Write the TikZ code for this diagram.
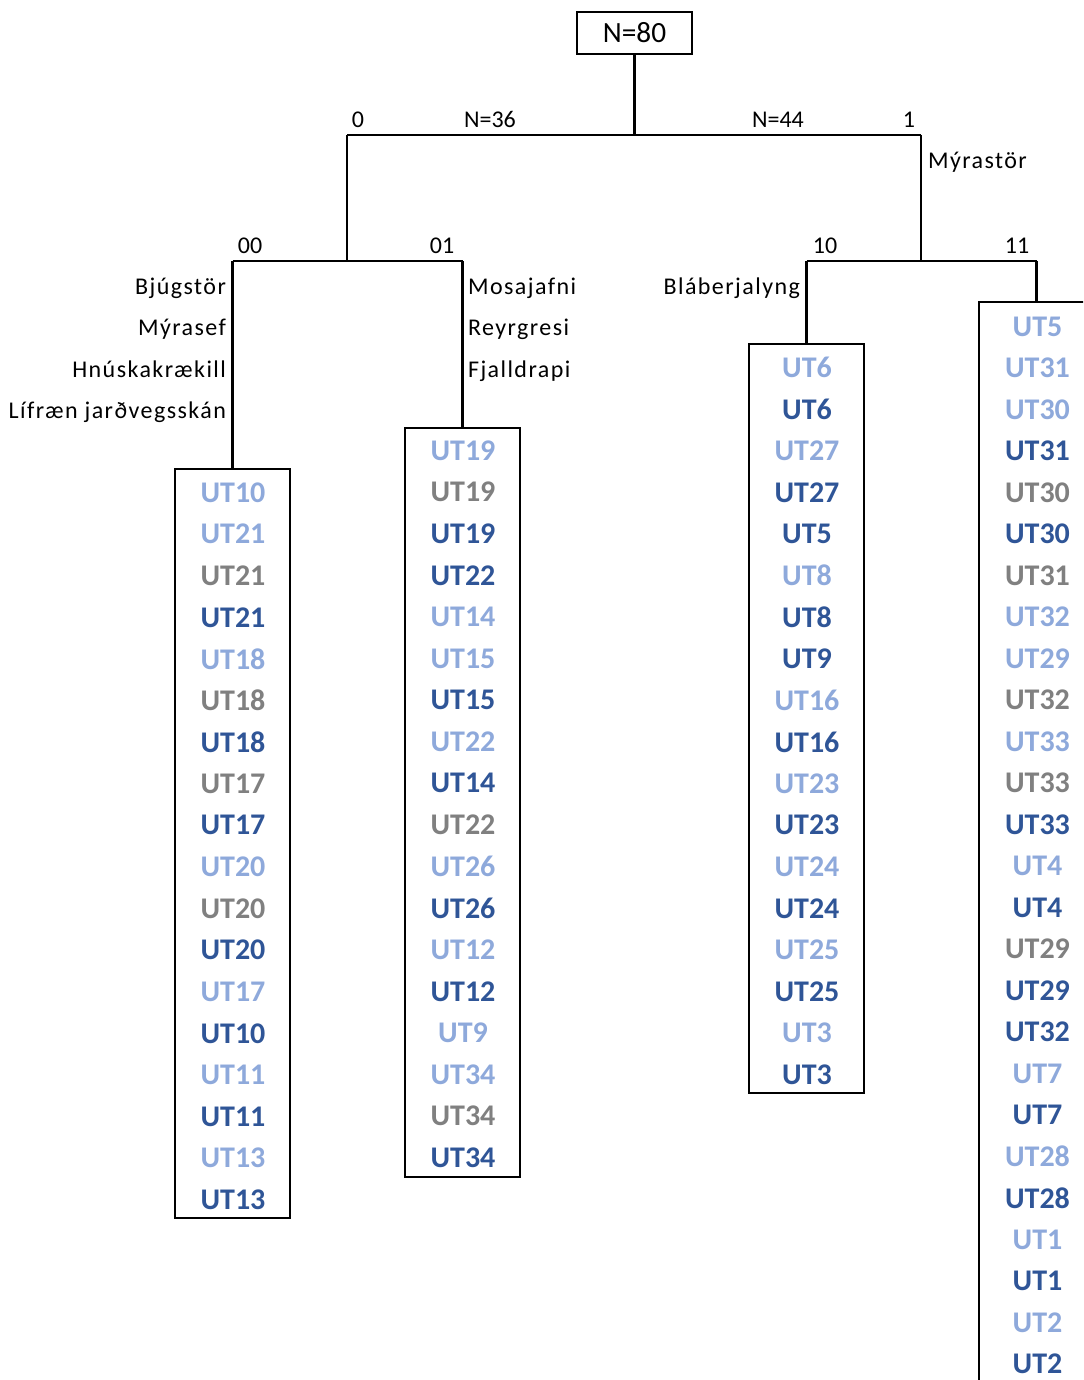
\documentclass[tikz,border=0pt]{standalone}
\usepackage{fontspec}
\setmainfont{Carlito}
\newfontfamily\sidefont[LetterSpace=6]{Carlito}
\usetikzlibrary{positioning}
\definecolor{UtLight}{HTML}{8EA9DB}
\definecolor{UtGrey}{HTML}{808080}
\definecolor{UtDark}{HTML}{2F5597}

\begin{document}
\begin{tikzpicture}[x=0.75pt, y=-0.75pt, line width=1.6pt,
  leafbox/.style={draw, minimum width=86.25pt, inner sep=0pt},
  ut/.style={inner sep=0pt, font=\fontsize{22.5}{27}\selectfont\bfseries},
  lbl/.style={inner sep=0pt, font=\fontsize{18}{21}\selectfont},
  side/.style={inner sep=0pt, font=\fontsize{18}{21}\selectfont\sidefont}]
  \useasboundingbox (0,0) rectangle (1083,1380);
  \clip (0,0) rectangle (1083,1380);

  % root
  \node[draw, minimum width=86.25pt, minimum height=31.5pt, inner sep=0pt,
        font=\fontsize{22}{26}\selectfont] (root) at (634.5,33) {N=80};

  % branch points
  \coordinate (n) at (634.5,135);
  \coordinate (n0) at (347,135);
  \coordinate (n1) at (921,135);
  \coordinate (n00) at (232.5,261);
  \coordinate (n01) at (462.5,261);
  \coordinate (n10) at (806.5,261);
  \coordinate (n11) at (1036.5,261);

  % leaf boxes
  \node[leafbox, minimum height=561.75pt] (b00) at (232.5,843.5) {};
  \node[leafbox, minimum height=561.75pt] (b01) at (462.5,802.5) {};
  \node[leafbox, minimum height=561.75pt] (b10) at (806.5,718.5) {};
  \node[leafbox, minimum height=812.25pt] (b11) at (1036.5,843.5) {};

  % tree lines
  \draw (root.south) -- (n);
  \draw (n0) -- (n1);
  \draw (n0) -- (n0 |- n00);
  \draw (n1) -- (n1 |- n10);
  \draw (n00) -- (n01);
  \draw (n10) -- (n11);
  \draw (n00) -- (b00.north);
  \draw (n01) -- (b01.north);
  \draw (n10) -- (b10.north);
  \draw (n11) -- (b11.north);

  % split labels
  \node[lbl, anchor=base] (l0) at (358,128) {0};
  \node[lbl, anchor=base] (l0n) at (490,128) {N=36};
  \node[lbl, anchor=base] (l1n) at (778,128) {N=44};
  \node[lbl, anchor=base] (l1) at (909,128) {1};
  \node[lbl, anchor=base] (l00) at (250,253) {00};
  \node[lbl, anchor=base] (l01) at (442,253) {01};
  \node[lbl, anchor=base] (l10) at (825,253) {10};
  \node[lbl, anchor=base] (l11) at (1017,253) {11};

  % species
  \node[side, anchor=base west] (sp1) at (927,169) {Mýrastör};
  \node[side, anchor=base east] (sp00a) at (227,294) {Bjúgstör};
  \node[side, anchor=base east] (sp00b) at (227,335.5) {Mýrasef};
  \node[side, anchor=base east] (sp00c) at (227,377) {Hnúskakrækill};
  \node[side, anchor=base east] (sp00d) at (227,418.5) {Lífræn jarðvegsskán};
  \node[side, anchor=base west] (sp01a) at (467,294) {Mosajafni};
  \node[side, anchor=base west] (sp01b) at (467,335.5) {Reyrgresi};
  \node[side, anchor=base west] (sp01c) at (467,377) {Fjalldrapi};
  \node[side, anchor=base east] (sp10) at (801,294) {Bláberjalyng};

  % plots in each group
  \foreach \t/\col [count=\i from 0] in {UT10/UtLight, UT21/UtLight, UT21/UtGrey,
      UT21/UtDark, UT18/UtLight, UT18/UtGrey, UT18/UtDark, UT17/UtGrey, UT17/UtDark,
      UT20/UtLight, UT20/UtGrey, UT20/UtDark, UT17/UtLight, UT10/UtDark,
      UT11/UtLight, UT11/UtDark, UT13/UtLight, UT13/UtDark}
    \node[ut, text=\col] (p00-\i) at (233,{492.5+41.6*\i}) {\t};
  \foreach \t/\col [count=\i from 0] in {UT19/UtLight, UT19/UtGrey, UT19/UtDark,
      UT22/UtDark, UT14/UtLight, UT15/UtLight, UT15/UtDark, UT22/UtLight, UT14/UtDark,
      UT22/UtGrey, UT26/UtLight, UT26/UtDark, UT12/UtLight, UT12/UtDark,
      UT9/UtLight, UT34/UtLight, UT34/UtGrey, UT34/UtDark}
    \node[ut, text=\col] (p01-\i) at (463,{450.5+41.6*\i}) {\t};
  \foreach \t/\col [count=\i from 0] in {UT6/UtLight, UT6/UtDark, UT27/UtLight,
      UT27/UtDark, UT5/UtDark, UT8/UtLight, UT8/UtDark, UT9/UtDark, UT16/UtLight,
      UT16/UtDark, UT23/UtLight, UT23/UtDark, UT24/UtLight, UT24/UtDark,
      UT25/UtLight, UT25/UtDark, UT3/UtLight, UT3/UtDark}
    \node[ut, text=\col] (p10-\i) at (807,{367.5+41.6*\i}) {\t};
  \foreach \t/\col [count=\i from 0] in {UT5/UtLight, UT31/UtLight, UT30/UtLight,
      UT31/UtDark, UT30/UtGrey, UT30/UtDark, UT31/UtGrey, UT32/UtLight, UT29/UtLight,
      UT32/UtGrey, UT33/UtLight, UT33/UtGrey, UT33/UtDark, UT4/UtLight, UT4/UtDark,
      UT29/UtGrey, UT29/UtDark, UT32/UtDark, UT7/UtLight, UT7/UtDark, UT28/UtLight,
      UT28/UtDark, UT1/UtLight, UT1/UtDark, UT2/UtLight, UT2/UtDark}
    \node[ut, text=\col] (p11-\i) at (1037.5,{326.5+41.5*\i}) {\t};
\end{tikzpicture}
\end{document}
